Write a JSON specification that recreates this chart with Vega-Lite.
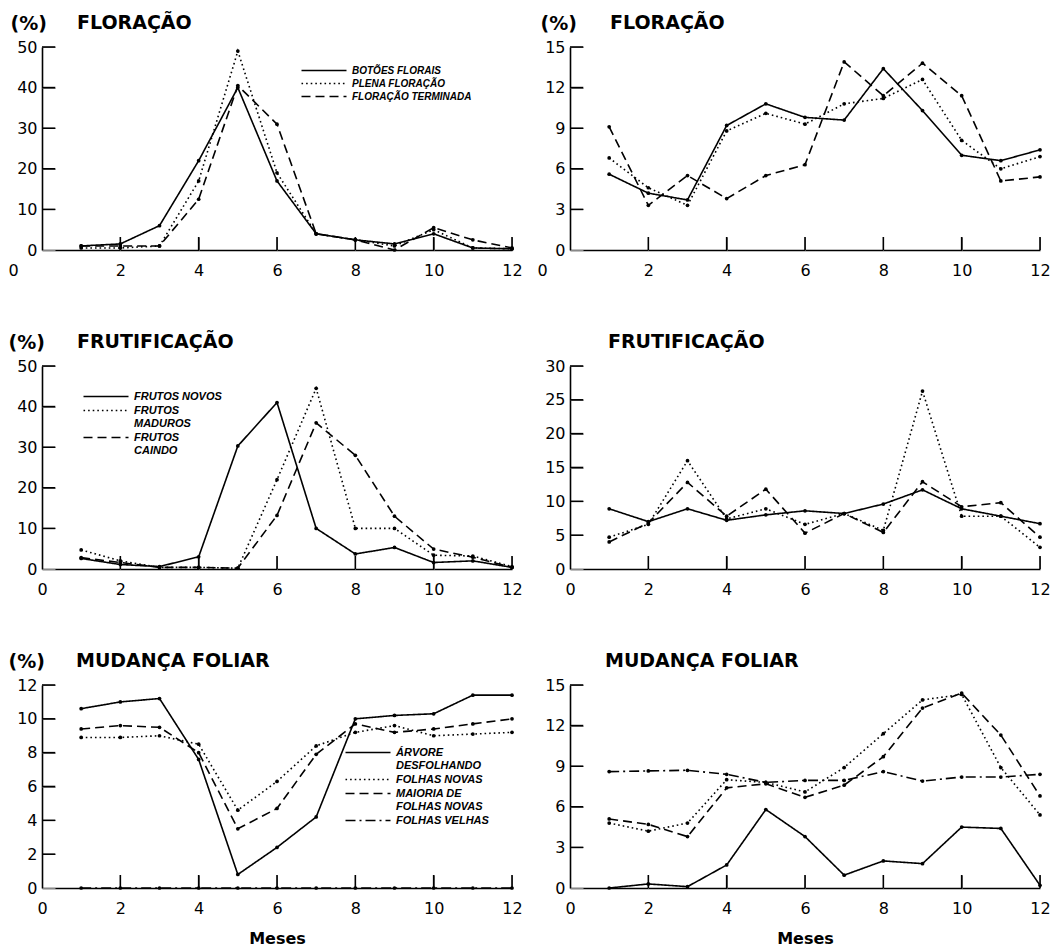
{
  "$schema": "https://vega.github.io/schema/vega-lite/v6.json",
  "background": "white",
  "padding": {"left": 7, "top": 14, "right": 5, "bottom": 5},
  "bounds": "flush",
  "spacing": 319,
  "resolve": {"scale": {"strokeDash": "independent", "x": "independent", "y": "independent"}, "legend": {"strokeDash": "independent"}},
  "datasets": {
    "xticks": [{"mes": 2}, {"mes": 4}, {"mes": 6}, {"mes": 8}, {"mes": 10}, {"mes": 12}],
    "yticks50": [{"valor": 10}, {"valor": 20}, {"valor": 30}, {"valor": 40}, {"valor": 50}],
    "yticks30": [{"valor": 5}, {"valor": 10}, {"valor": 15}, {"valor": 20}, {"valor": 25}, {"valor": 30}],
    "yticks15": [{"valor": 3}, {"valor": 6}, {"valor": 9}, {"valor": 12}, {"valor": 15}],
    "yticks12": [{"valor": 2}, {"valor": 4}, {"valor": 6}, {"valor": 8}, {"valor": 10}, {"valor": 12}],
    "flor_a": [
      {"mes":1,"serie":"BOTÕES FLORAIS","valor":1.0},{"mes":2,"serie":"BOTÕES FLORAIS","valor":1.5},{"mes":3,"serie":"BOTÕES FLORAIS","valor":6},{"mes":4,"serie":"BOTÕES FLORAIS","valor":22},{"mes":5,"serie":"BOTÕES FLORAIS","valor":40},{"mes":6,"serie":"BOTÕES FLORAIS","valor":17},{"mes":7,"serie":"BOTÕES FLORAIS","valor":4},{"mes":8,"serie":"BOTÕES FLORAIS","valor":2.5},{"mes":9,"serie":"BOTÕES FLORAIS","valor":1.5},{"mes":10,"serie":"BOTÕES FLORAIS","valor":4},{"mes":11,"serie":"BOTÕES FLORAIS","valor":0.5},{"mes":12,"serie":"BOTÕES FLORAIS","valor":0.3},
      {"mes":1,"serie":"PLENA FLORAÇÃO","valor":0.5},{"mes":2,"serie":"PLENA FLORAÇÃO","valor":0.5},{"mes":3,"serie":"PLENA FLORAÇÃO","valor":1},{"mes":4,"serie":"PLENA FLORAÇÃO","valor":17},{"mes":5,"serie":"PLENA FLORAÇÃO","valor":49},{"mes":6,"serie":"PLENA FLORAÇÃO","valor":19},{"mes":7,"serie":"PLENA FLORAÇÃO","valor":4},{"mes":8,"serie":"PLENA FLORAÇÃO","valor":2.5},{"mes":9,"serie":"PLENA FLORAÇÃO","valor":1},{"mes":10,"serie":"PLENA FLORAÇÃO","valor":5},{"mes":11,"serie":"PLENA FLORAÇÃO","valor":0.5},{"mes":12,"serie":"PLENA FLORAÇÃO","valor":0.3},
      {"mes":1,"serie":"FLORAÇÃO TERMINADA","valor":1},{"mes":2,"serie":"FLORAÇÃO TERMINADA","valor":1},{"mes":3,"serie":"FLORAÇÃO TERMINADA","valor":1},{"mes":4,"serie":"FLORAÇÃO TERMINADA","valor":12.5},{"mes":5,"serie":"FLORAÇÃO TERMINADA","valor":40.5},{"mes":6,"serie":"FLORAÇÃO TERMINADA","valor":31},{"mes":7,"serie":"FLORAÇÃO TERMINADA","valor":4},{"mes":8,"serie":"FLORAÇÃO TERMINADA","valor":2.5},{"mes":9,"serie":"FLORAÇÃO TERMINADA","valor":0},{"mes":10,"serie":"FLORAÇÃO TERMINADA","valor":5.5},{"mes":11,"serie":"FLORAÇÃO TERMINADA","valor":2.5},{"mes":12,"serie":"FLORAÇÃO TERMINADA","valor":0.5}
    ],
    "flor_b": [
      {"mes":1,"serie":"BOTÕES FLORAIS","valor":5.6},{"mes":2,"serie":"BOTÕES FLORAIS","valor":4.2},{"mes":3,"serie":"BOTÕES FLORAIS","valor":3.7},{"mes":4,"serie":"BOTÕES FLORAIS","valor":9.2},{"mes":5,"serie":"BOTÕES FLORAIS","valor":10.8},{"mes":6,"serie":"BOTÕES FLORAIS","valor":9.8},{"mes":7,"serie":"BOTÕES FLORAIS","valor":9.6},{"mes":8,"serie":"BOTÕES FLORAIS","valor":13.4},{"mes":9,"serie":"BOTÕES FLORAIS","valor":10.3},{"mes":10,"serie":"BOTÕES FLORAIS","valor":7.0},{"mes":11,"serie":"BOTÕES FLORAIS","valor":6.6},{"mes":12,"serie":"BOTÕES FLORAIS","valor":7.4},
      {"mes":1,"serie":"PLENA FLORAÇÃO","valor":6.8},{"mes":2,"serie":"PLENA FLORAÇÃO","valor":4.6},{"mes":3,"serie":"PLENA FLORAÇÃO","valor":3.3},{"mes":4,"serie":"PLENA FLORAÇÃO","valor":8.8},{"mes":5,"serie":"PLENA FLORAÇÃO","valor":10.1},{"mes":6,"serie":"PLENA FLORAÇÃO","valor":9.3},{"mes":7,"serie":"PLENA FLORAÇÃO","valor":10.8},{"mes":8,"serie":"PLENA FLORAÇÃO","valor":11.2},{"mes":9,"serie":"PLENA FLORAÇÃO","valor":12.6},{"mes":10,"serie":"PLENA FLORAÇÃO","valor":8.1},{"mes":11,"serie":"PLENA FLORAÇÃO","valor":6.0},{"mes":12,"serie":"PLENA FLORAÇÃO","valor":6.9},
      {"mes":1,"serie":"FLORAÇÃO TERMINADA","valor":9.1},{"mes":2,"serie":"FLORAÇÃO TERMINADA","valor":3.3},{"mes":3,"serie":"FLORAÇÃO TERMINADA","valor":5.5},{"mes":4,"serie":"FLORAÇÃO TERMINADA","valor":3.8},{"mes":5,"serie":"FLORAÇÃO TERMINADA","valor":5.5},{"mes":6,"serie":"FLORAÇÃO TERMINADA","valor":6.3},{"mes":7,"serie":"FLORAÇÃO TERMINADA","valor":13.9},{"mes":8,"serie":"FLORAÇÃO TERMINADA","valor":11.4},{"mes":9,"serie":"FLORAÇÃO TERMINADA","valor":13.8},{"mes":10,"serie":"FLORAÇÃO TERMINADA","valor":11.4},{"mes":11,"serie":"FLORAÇÃO TERMINADA","valor":5.1},{"mes":12,"serie":"FLORAÇÃO TERMINADA","valor":5.4}
    ],
    "frut_a": [
      {"mes":1,"serie":"FRUTOS NOVOS","valor":2.6},{"mes":2,"serie":"FRUTOS NOVOS","valor":1.1},{"mes":3,"serie":"FRUTOS NOVOS","valor":0.6},{"mes":4,"serie":"FRUTOS NOVOS","valor":3.0},{"mes":5,"serie":"FRUTOS NOVOS","valor":30.3},{"mes":6,"serie":"FRUTOS NOVOS","valor":41},{"mes":7,"serie":"FRUTOS NOVOS","valor":10},{"mes":8,"serie":"FRUTOS NOVOS","valor":3.7},{"mes":9,"serie":"FRUTOS NOVOS","valor":5.3},{"mes":10,"serie":"FRUTOS NOVOS","valor":1.6},{"mes":11,"serie":"FRUTOS NOVOS","valor":2.0},{"mes":12,"serie":"FRUTOS NOVOS","valor":0.4},
      {"mes":1,"serie":"FRUTOS MADUROS","valor":4.7},{"mes":2,"serie":"FRUTOS MADUROS","valor":2.0},{"mes":3,"serie":"FRUTOS MADUROS","valor":0.4},{"mes":4,"serie":"FRUTOS MADUROS","valor":0.4},{"mes":5,"serie":"FRUTOS MADUROS","valor":0.2},{"mes":6,"serie":"FRUTOS MADUROS","valor":22},{"mes":7,"serie":"FRUTOS MADUROS","valor":44.5},{"mes":8,"serie":"FRUTOS MADUROS","valor":10},{"mes":9,"serie":"FRUTOS MADUROS","valor":10},{"mes":10,"serie":"FRUTOS MADUROS","valor":3.4},{"mes":11,"serie":"FRUTOS MADUROS","valor":3.2},{"mes":12,"serie":"FRUTOS MADUROS","valor":0.6},
      {"mes":1,"serie":"FRUTOS CAINDO","valor":2.8},{"mes":2,"serie":"FRUTOS CAINDO","valor":1.6},{"mes":3,"serie":"FRUTOS CAINDO","valor":0.4},{"mes":4,"serie":"FRUTOS CAINDO","valor":0.4},{"mes":5,"serie":"FRUTOS CAINDO","valor":0.2},{"mes":6,"serie":"FRUTOS CAINDO","valor":13.2},{"mes":7,"serie":"FRUTOS CAINDO","valor":36},{"mes":8,"serie":"FRUTOS CAINDO","valor":28},{"mes":9,"serie":"FRUTOS CAINDO","valor":13},{"mes":10,"serie":"FRUTOS CAINDO","valor":4.9},{"mes":11,"serie":"FRUTOS CAINDO","valor":2.9},{"mes":12,"serie":"FRUTOS CAINDO","valor":0.4}
    ],
    "frut_b": [
      {"mes":1,"serie":"FRUTOS NOVOS","valor":8.9},{"mes":2,"serie":"FRUTOS NOVOS","valor":7.0},{"mes":3,"serie":"FRUTOS NOVOS","valor":8.9},{"mes":4,"serie":"FRUTOS NOVOS","valor":7.2},{"mes":5,"serie":"FRUTOS NOVOS","valor":8.0},{"mes":6,"serie":"FRUTOS NOVOS","valor":8.6},{"mes":7,"serie":"FRUTOS NOVOS","valor":8.2},{"mes":8,"serie":"FRUTOS NOVOS","valor":9.6},{"mes":9,"serie":"FRUTOS NOVOS","valor":11.7},{"mes":10,"serie":"FRUTOS NOVOS","valor":8.9},{"mes":11,"serie":"FRUTOS NOVOS","valor":7.8},{"mes":12,"serie":"FRUTOS NOVOS","valor":6.7},
      {"mes":1,"serie":"FRUTOS MADUROS","valor":4.7},{"mes":2,"serie":"FRUTOS MADUROS","valor":6.6},{"mes":3,"serie":"FRUTOS MADUROS","valor":16.0},{"mes":4,"serie":"FRUTOS MADUROS","valor":7.4},{"mes":5,"serie":"FRUTOS MADUROS","valor":8.9},{"mes":6,"serie":"FRUTOS MADUROS","valor":6.6},{"mes":7,"serie":"FRUTOS MADUROS","valor":8.2},{"mes":8,"serie":"FRUTOS MADUROS","valor":5.7},{"mes":9,"serie":"FRUTOS MADUROS","valor":26.3},{"mes":10,"serie":"FRUTOS MADUROS","valor":7.8},{"mes":11,"serie":"FRUTOS MADUROS","valor":7.8},{"mes":12,"serie":"FRUTOS MADUROS","valor":3.2},
      {"mes":1,"serie":"FRUTOS CAINDO","valor":4.0},{"mes":2,"serie":"FRUTOS CAINDO","valor":6.8},{"mes":3,"serie":"FRUTOS CAINDO","valor":12.8},{"mes":4,"serie":"FRUTOS CAINDO","valor":7.8},{"mes":5,"serie":"FRUTOS CAINDO","valor":11.8},{"mes":6,"serie":"FRUTOS CAINDO","valor":5.3},{"mes":7,"serie":"FRUTOS CAINDO","valor":8.2},{"mes":8,"serie":"FRUTOS CAINDO","valor":5.4},{"mes":9,"serie":"FRUTOS CAINDO","valor":12.9},{"mes":10,"serie":"FRUTOS CAINDO","valor":9.2},{"mes":11,"serie":"FRUTOS CAINDO","valor":9.8},{"mes":12,"serie":"FRUTOS CAINDO","valor":4.7}
    ],
    "fol_a": [
      {"mes":1,"serie":"ÁRVORE DESFOLHANDO","valor":10.6},{"mes":2,"serie":"ÁRVORE DESFOLHANDO","valor":11.0},{"mes":3,"serie":"ÁRVORE DESFOLHANDO","valor":11.2},{"mes":4,"serie":"ÁRVORE DESFOLHANDO","valor":7.6},{"mes":5,"serie":"ÁRVORE DESFOLHANDO","valor":0.8},{"mes":6,"serie":"ÁRVORE DESFOLHANDO","valor":2.4},{"mes":7,"serie":"ÁRVORE DESFOLHANDO","valor":4.2},{"mes":8,"serie":"ÁRVORE DESFOLHANDO","valor":10.0},{"mes":9,"serie":"ÁRVORE DESFOLHANDO","valor":10.2},{"mes":10,"serie":"ÁRVORE DESFOLHANDO","valor":10.3},{"mes":11,"serie":"ÁRVORE DESFOLHANDO","valor":11.4},{"mes":12,"serie":"ÁRVORE DESFOLHANDO","valor":11.4},
      {"mes":1,"serie":"FOLHAS NOVAS","valor":8.9},{"mes":2,"serie":"FOLHAS NOVAS","valor":8.9},{"mes":3,"serie":"FOLHAS NOVAS","valor":9.0},{"mes":4,"serie":"FOLHAS NOVAS","valor":8.5},{"mes":5,"serie":"FOLHAS NOVAS","valor":4.6},{"mes":6,"serie":"FOLHAS NOVAS","valor":6.3},{"mes":7,"serie":"FOLHAS NOVAS","valor":8.4},{"mes":8,"serie":"FOLHAS NOVAS","valor":9.2},{"mes":9,"serie":"FOLHAS NOVAS","valor":9.6},{"mes":10,"serie":"FOLHAS NOVAS","valor":9.0},{"mes":11,"serie":"FOLHAS NOVAS","valor":9.1},{"mes":12,"serie":"FOLHAS NOVAS","valor":9.2},
      {"mes":1,"serie":"MAIORIA DE FOLHAS NOVAS","valor":9.4},{"mes":2,"serie":"MAIORIA DE FOLHAS NOVAS","valor":9.6},{"mes":3,"serie":"MAIORIA DE FOLHAS NOVAS","valor":9.5},{"mes":4,"serie":"MAIORIA DE FOLHAS NOVAS","valor":8.0},{"mes":5,"serie":"MAIORIA DE FOLHAS NOVAS","valor":3.5},{"mes":6,"serie":"MAIORIA DE FOLHAS NOVAS","valor":4.7},{"mes":7,"serie":"MAIORIA DE FOLHAS NOVAS","valor":7.9},{"mes":8,"serie":"MAIORIA DE FOLHAS NOVAS","valor":9.7},{"mes":9,"serie":"MAIORIA DE FOLHAS NOVAS","valor":9.2},{"mes":10,"serie":"MAIORIA DE FOLHAS NOVAS","valor":9.4},{"mes":11,"serie":"MAIORIA DE FOLHAS NOVAS","valor":9.7},{"mes":12,"serie":"MAIORIA DE FOLHAS NOVAS","valor":10.0},
      {"mes":1,"serie":"FOLHAS VELHAS","valor":0},{"mes":2,"serie":"FOLHAS VELHAS","valor":0},{"mes":3,"serie":"FOLHAS VELHAS","valor":0},{"mes":4,"serie":"FOLHAS VELHAS","valor":0},{"mes":5,"serie":"FOLHAS VELHAS","valor":0},{"mes":6,"serie":"FOLHAS VELHAS","valor":0},{"mes":7,"serie":"FOLHAS VELHAS","valor":0},{"mes":8,"serie":"FOLHAS VELHAS","valor":0},{"mes":9,"serie":"FOLHAS VELHAS","valor":0},{"mes":10,"serie":"FOLHAS VELHAS","valor":0},{"mes":11,"serie":"FOLHAS VELHAS","valor":0},{"mes":12,"serie":"FOLHAS VELHAS","valor":0}
    ],
    "fol_b": [
      {"mes":1,"serie":"ÁRVORE DESFOLHANDO","valor":0},{"mes":2,"serie":"ÁRVORE DESFOLHANDO","valor":0.3},{"mes":3,"serie":"ÁRVORE DESFOLHANDO","valor":0.1},{"mes":4,"serie":"ÁRVORE DESFOLHANDO","valor":1.7},{"mes":5,"serie":"ÁRVORE DESFOLHANDO","valor":5.8},{"mes":6,"serie":"ÁRVORE DESFOLHANDO","valor":3.8},{"mes":7,"serie":"ÁRVORE DESFOLHANDO","valor":0.95},{"mes":8,"serie":"ÁRVORE DESFOLHANDO","valor":2.0},{"mes":9,"serie":"ÁRVORE DESFOLHANDO","valor":1.8},{"mes":10,"serie":"ÁRVORE DESFOLHANDO","valor":4.5},{"mes":11,"serie":"ÁRVORE DESFOLHANDO","valor":4.4},{"mes":12,"serie":"ÁRVORE DESFOLHANDO","valor":0.2},
      {"mes":1,"serie":"FOLHAS NOVAS","valor":4.8},{"mes":2,"serie":"FOLHAS NOVAS","valor":4.2},{"mes":3,"serie":"FOLHAS NOVAS","valor":4.8},{"mes":4,"serie":"FOLHAS NOVAS","valor":8.0},{"mes":5,"serie":"FOLHAS NOVAS","valor":7.8},{"mes":6,"serie":"FOLHAS NOVAS","valor":7.1},{"mes":7,"serie":"FOLHAS NOVAS","valor":8.9},{"mes":8,"serie":"FOLHAS NOVAS","valor":11.4},{"mes":9,"serie":"FOLHAS NOVAS","valor":13.9},{"mes":10,"serie":"FOLHAS NOVAS","valor":14.3},{"mes":11,"serie":"FOLHAS NOVAS","valor":8.9},{"mes":12,"serie":"FOLHAS NOVAS","valor":5.4},
      {"mes":1,"serie":"MAIORIA DE FOLHAS NOVAS","valor":5.1},{"mes":2,"serie":"MAIORIA DE FOLHAS NOVAS","valor":4.7},{"mes":3,"serie":"MAIORIA DE FOLHAS NOVAS","valor":3.8},{"mes":4,"serie":"MAIORIA DE FOLHAS NOVAS","valor":7.4},{"mes":5,"serie":"MAIORIA DE FOLHAS NOVAS","valor":7.7},{"mes":6,"serie":"MAIORIA DE FOLHAS NOVAS","valor":6.7},{"mes":7,"serie":"MAIORIA DE FOLHAS NOVAS","valor":7.6},{"mes":8,"serie":"MAIORIA DE FOLHAS NOVAS","valor":9.7},{"mes":9,"serie":"MAIORIA DE FOLHAS NOVAS","valor":13.3},{"mes":10,"serie":"MAIORIA DE FOLHAS NOVAS","valor":14.4},{"mes":11,"serie":"MAIORIA DE FOLHAS NOVAS","valor":11.3},{"mes":12,"serie":"MAIORIA DE FOLHAS NOVAS","valor":6.8},
      {"mes":1,"serie":"FOLHAS VELHAS","valor":8.6},{"mes":2,"serie":"FOLHAS VELHAS","valor":8.65},{"mes":3,"serie":"FOLHAS VELHAS","valor":8.7},{"mes":4,"serie":"FOLHAS VELHAS","valor":8.4},{"mes":5,"serie":"FOLHAS VELHAS","valor":7.8},{"mes":6,"serie":"FOLHAS VELHAS","valor":7.95},{"mes":7,"serie":"FOLHAS VELHAS","valor":7.95},{"mes":8,"serie":"FOLHAS VELHAS","valor":8.6},{"mes":9,"serie":"FOLHAS VELHAS","valor":7.9},{"mes":10,"serie":"FOLHAS VELHAS","valor":8.2},{"mes":11,"serie":"FOLHAS VELHAS","valor":8.2},{"mes":12,"serie":"FOLHAS VELHAS","valor":8.4}
    ]
  },
  "vconcat": [
    {
      "hconcat": [
        {
          "width": 470, "height": 203,
          "title": {"text": "FLORAÇÃO", "dx": 35},
          "resolve": {"axis": {"x": "independent", "y": "independent"}},
          "layer": [
            {"data": {"name": "flor_a"},
             "mark": {"type": "line", "color": "black", "strokeWidth": 1.6},
             "encoding": {
               "x": {"field": "mes", "type": "quantitative", "scale": {"domain": [0, 12], "nice": false}, "axis": {"values": [0,2,4,6,8,10,12], "title": null, "labelOffset": {"condition": {"test": "datum.value === 0", "value": -29}, "value": 0}}},
               "y": {"field": "valor", "type": "quantitative", "scale": {"domain": [0, 50], "nice": false}, "axis": {"values": [0,10,20,30,40,50], "title": "(%)", "titleX": -32}},
               "strokeDash": {"field": "serie", "type": "nominal",
                 "scale": {"domain": ["BOTÕES FLORAIS", "PLENA FLORAÇÃO", "FLORAÇÃO TERMINADA"], "range": [[1,0],[1.6,3],[9,5]]},
                 "legend": {"legendX": 254, "legendY": 18, "labelFontSize": 10}}
             }},
            {"data": {"name": "flor_a"},
             "mark": {"type": "point", "filled": true, "color": "black", "size": 14, "opacity": 1},
             "encoding": {
               "x": {"field": "mes", "type": "quantitative", "scale": {"domain": [0, 12], "nice": false}, "axis": {"orient": "top", "offset": -203, "labels": false, "domain": false, "ticks": true, "tickSize": 13, "values": [0,2,4,6,8,10,12], "title": null}},
               "y": {"field": "valor", "type": "quantitative", "scale": {"domain": [0, 50], "nice": false}, "axis": {"orient": "right", "offset": -470, "labels": false, "domain": false, "ticks": true, "tickSize": 13, "values": [0,10,20,30,40,50], "title": null}}}},
            {"data": {"name": "xticks"},
             "mark": {"type": "rule", "color": "black", "opacity": 1, "strokeWidth": 1.6},
             "encoding": {"x": {"field": "mes", "type": "quantitative", "axis": null}, "y": {"datum": 0, "type": "quantitative", "axis": null}, "y2": {"datum": 3.2}}},
            {"data": {"name": "yticks50"},
             "mark": {"type": "rule", "color": "black", "opacity": 1, "strokeWidth": 1.6},
             "encoding": {"y": {"field": "valor", "type": "quantitative", "axis": null}, "x": {"datum": 0, "type": "quantitative", "axis": null}, "x2": {"datum": 0.34}}}
          ]
        },
        {
          "width": 470, "height": 203,
          "title": {"text": "FLORAÇÃO", "dx": 40},
          "resolve": {"axis": {"x": "independent", "y": "independent"}},
          "layer": [
            {"data": {"name": "flor_b"},
             "mark": {"type": "line", "color": "black", "strokeWidth": 1.6},
             "encoding": {
               "x": {"field": "mes", "type": "quantitative", "scale": {"domain": [0, 12], "nice": false}, "axis": {"values": [0,2,4,6,8,10,12], "title": null, "labelOffset": {"condition": {"test": "datum.value === 0", "value": -28}, "value": 0}}},
               "y": {"field": "valor", "type": "quantitative", "scale": {"domain": [0, 15], "nice": false}, "axis": {"values": [0,3,6,9,12,15], "title": "(%)", "titleX": -30}},
               "strokeDash": {"field": "serie", "type": "nominal",
                 "scale": {"domain": ["BOTÕES FLORAIS", "PLENA FLORAÇÃO", "FLORAÇÃO TERMINADA"], "range": [[1,0],[1.6,3],[9,5]]},
                 "legend": null}
             }},
            {"data": {"name": "flor_b"},
             "mark": {"type": "point", "filled": true, "color": "black", "size": 14, "opacity": 1},
             "encoding": {
               "x": {"field": "mes", "type": "quantitative", "scale": {"domain": [0, 12], "nice": false}, "axis": {"orient": "top", "offset": -203, "labels": false, "domain": false, "ticks": true, "tickSize": 13, "values": [0,2,4,6,8,10,12], "title": null}},
               "y": {"field": "valor", "type": "quantitative", "scale": {"domain": [0, 15], "nice": false}, "axis": {"orient": "right", "offset": -470, "labels": false, "domain": false, "ticks": true, "tickSize": 13, "values": [0,3,6,9,12,15], "title": null}}}},
            {"data": {"name": "xticks"},
             "mark": {"type": "rule", "color": "black", "opacity": 1, "strokeWidth": 1.6},
             "encoding": {"x": {"field": "mes", "type": "quantitative", "axis": null}, "y": {"datum": 0, "type": "quantitative", "axis": null}, "y2": {"datum": 0.96}}},
            {"data": {"name": "yticks15"},
             "mark": {"type": "rule", "color": "black", "opacity": 1, "strokeWidth": 1.6},
             "encoding": {"y": {"field": "valor", "type": "quantitative", "axis": null}, "x": {"datum": 0, "type": "quantitative", "axis": null}, "x2": {"datum": 0.34}}}
          ]
        }
      ],
      "spacing": 58, "bounds": "flush",
      "resolve": {"scale": {"strokeDash": "independent", "x": "independent", "y": "independent"}, "legend": {"strokeDash": "independent"}}
    },
    {
      "hconcat": [
        {
          "width": 470, "height": 203,
          "title": {"text": "FRUTIFICAÇÃO", "dx": 35},
          "resolve": {"axis": {"x": "independent", "y": "independent"}},
          "layer": [
            {"data": {"name": "frut_a"},
             "mark": {"type": "line", "color": "black", "strokeWidth": 1.6},
             "encoding": {
               "x": {"field": "mes", "type": "quantitative", "scale": {"domain": [0, 12], "nice": false}, "axis": {"values": [0,2,4,6,8,10,12], "title": null}},
               "y": {"field": "valor", "type": "quantitative", "scale": {"domain": [0, 50], "nice": false}, "axis": {"values": [0,10,20,30,40,50], "title": "(%)", "titleX": -34}},
               "strokeDash": {"field": "serie", "type": "nominal",
                 "scale": {"domain": ["FRUTOS NOVOS", "FRUTOS MADUROS", "FRUTOS CAINDO"], "range": [[1,0],[1.6,3],[9,5]]},
                 "legend": {"legendX": 36, "legendY": 25, "labelFontSize": 11, "labelExpr": "datum.label == 'FRUTOS NOVOS' ? datum.label : split(datum.label, ' ')"}}
             }},
            {"data": {"name": "frut_a"},
             "mark": {"type": "point", "filled": true, "color": "black", "size": 14, "opacity": 1},
             "encoding": {
               "x": {"field": "mes", "type": "quantitative", "scale": {"domain": [0, 12], "nice": false}, "axis": {"orient": "top", "offset": -203, "labels": false, "domain": false, "ticks": true, "tickSize": 13, "values": [0,2,4,6,8,10,12], "title": null}},
               "y": {"field": "valor", "type": "quantitative", "scale": {"domain": [0, 50], "nice": false}, "axis": {"orient": "right", "offset": -470, "labels": false, "domain": false, "ticks": true, "tickSize": 13, "values": [0,10,20,30,40,50], "title": null}}}},
            {"data": {"name": "xticks"},
             "mark": {"type": "rule", "color": "black", "opacity": 1, "strokeWidth": 1.6},
             "encoding": {"x": {"field": "mes", "type": "quantitative", "axis": null}, "y": {"datum": 0, "type": "quantitative", "axis": null}, "y2": {"datum": 3.2}}},
            {"data": {"name": "yticks50"},
             "mark": {"type": "rule", "color": "black", "opacity": 1, "strokeWidth": 1.6},
             "encoding": {"y": {"field": "valor", "type": "quantitative", "axis": null}, "x": {"datum": 0, "type": "quantitative", "axis": null}, "x2": {"datum": 0.34}}}
          ]
        },
        {
          "width": 470, "height": 203,
          "title": {"text": "FRUTIFICAÇÃO", "dx": 38},
          "resolve": {"axis": {"x": "independent", "y": "independent"}},
          "layer": [
            {"data": {"name": "frut_b"},
             "mark": {"type": "line", "color": "black", "strokeWidth": 1.6},
             "encoding": {
               "x": {"field": "mes", "type": "quantitative", "scale": {"domain": [0, 12], "nice": false}, "axis": {"values": [0,2,4,6,8,10,12], "title": null}},
               "y": {"field": "valor", "type": "quantitative", "scale": {"domain": [0, 30], "nice": false}, "axis": {"values": [0,5,10,15,20,25,30], "title": "(%)", "titleX": -30, "titleOpacity": 0}},
               "strokeDash": {"field": "serie", "type": "nominal",
                 "scale": {"domain": ["FRUTOS NOVOS", "FRUTOS MADUROS", "FRUTOS CAINDO"], "range": [[1,0],[1.6,3],[9,5]]},
                 "legend": null}
             }},
            {"data": {"name": "frut_b"},
             "mark": {"type": "point", "filled": true, "color": "black", "size": 14, "opacity": 1},
             "encoding": {
               "x": {"field": "mes", "type": "quantitative", "scale": {"domain": [0, 12], "nice": false}, "axis": {"orient": "top", "offset": -203, "labels": false, "domain": false, "ticks": true, "tickSize": 13, "values": [0,2,4,6,8,10,12], "title": null}},
               "y": {"field": "valor", "type": "quantitative", "scale": {"domain": [0, 30], "nice": false}, "axis": {"orient": "right", "offset": -470, "labels": false, "domain": false, "ticks": true, "tickSize": 13, "values": [0,5,10,15,20,25,30], "title": null}}}},
            {"data": {"name": "xticks"},
             "mark": {"type": "rule", "color": "black", "opacity": 1, "strokeWidth": 1.6},
             "encoding": {"x": {"field": "mes", "type": "quantitative", "axis": null}, "y": {"datum": 0, "type": "quantitative", "axis": null}, "y2": {"datum": 1.92}}},
            {"data": {"name": "yticks30"},
             "mark": {"type": "rule", "color": "black", "opacity": 1, "strokeWidth": 1.6},
             "encoding": {"y": {"field": "valor", "type": "quantitative", "axis": null}, "x": {"datum": 0, "type": "quantitative", "axis": null}, "x2": {"datum": 0.34}}}
          ]
        }
      ],
      "spacing": 58, "bounds": "flush",
      "resolve": {"scale": {"strokeDash": "independent", "x": "independent", "y": "independent"}, "legend": {"strokeDash": "independent"}}
    },
    {
      "hconcat": [
        {
          "width": 470, "height": 203,
          "title": {"text": "MUDANÇA FOLIAR", "dx": 34},
          "resolve": {"axis": {"x": "independent", "y": "independent"}},
          "layer": [
            {"data": {"name": "fol_a"},
             "mark": {"type": "line", "color": "black", "strokeWidth": 1.6},
             "encoding": {
               "x": {"field": "mes", "type": "quantitative", "scale": {"domain": [0, 12], "nice": false}, "axis": {"values": [0,2,4,6,8,10,12], "title": "Meses"}},
               "y": {"field": "valor", "type": "quantitative", "scale": {"domain": [0, 12], "nice": false}, "axis": {"values": [0,2,4,6,8,10,12], "title": "(%)", "titleX": -34}},
               "strokeDash": {"field": "serie", "type": "nominal",
                 "scale": {"domain": ["ÁRVORE DESFOLHANDO", "FOLHAS NOVAS", "MAIORIA DE FOLHAS NOVAS", "FOLHAS VELHAS"], "range": [[1,0],[1.6,3],[9,5],[10,4,2,4]]},
                 "legend": {"legendX": 298, "legendY": 62, "labelFontSize": 11, "labelExpr": "datum.label == 'ÁRVORE DESFOLHANDO' ? ['ÁRVORE', 'DESFOLHANDO'] : datum.label == 'MAIORIA DE FOLHAS NOVAS' ? ['MAIORIA DE', 'FOLHAS NOVAS'] : datum.label"}}
             }},
            {"data": {"name": "fol_a"},
             "mark": {"type": "point", "filled": true, "color": "black", "size": 14, "opacity": 1},
             "encoding": {
               "x": {"field": "mes", "type": "quantitative", "scale": {"domain": [0, 12], "nice": false}, "axis": {"orient": "top", "offset": -203, "labels": false, "domain": false, "ticks": true, "tickSize": 13, "values": [0,2,4,6,8,10,12], "title": null}},
               "y": {"field": "valor", "type": "quantitative", "scale": {"domain": [0, 12], "nice": false}, "axis": {"orient": "right", "offset": -470, "labels": false, "domain": false, "ticks": true, "tickSize": 13, "values": [0,2,4,6,8,10,12], "title": null}}}},
            {"data": {"name": "xticks"},
             "mark": {"type": "rule", "color": "black", "opacity": 1, "strokeWidth": 1.6},
             "encoding": {"x": {"field": "mes", "type": "quantitative", "axis": null}, "y": {"datum": 0, "type": "quantitative", "axis": null}, "y2": {"datum": 0.77}}},
            {"data": {"name": "yticks12"},
             "mark": {"type": "rule", "color": "black", "opacity": 1, "strokeWidth": 1.6},
             "encoding": {"y": {"field": "valor", "type": "quantitative", "axis": null}, "x": {"datum": 0, "type": "quantitative", "axis": null}, "x2": {"datum": 0.34}}}
          ]
        },
        {
          "width": 470, "height": 203,
          "title": {"text": "MUDANÇA FOLIAR", "dx": 35},
          "resolve": {"axis": {"x": "independent", "y": "independent"}},
          "layer": [
            {"data": {"name": "fol_b"},
             "mark": {"type": "line", "color": "black", "strokeWidth": 1.6},
             "encoding": {
               "x": {"field": "mes", "type": "quantitative", "scale": {"domain": [0, 12], "nice": false}, "axis": {"values": [0,2,4,6,8,10,12], "title": "Meses"}},
               "y": {"field": "valor", "type": "quantitative", "scale": {"domain": [0, 15], "nice": false}, "axis": {"values": [0,3,6,9,12,15], "title": "(%)", "titleX": -30, "titleOpacity": 0}},
               "strokeDash": {"field": "serie", "type": "nominal",
                 "scale": {"domain": ["ÁRVORE DESFOLHANDO", "FOLHAS NOVAS", "MAIORIA DE FOLHAS NOVAS", "FOLHAS VELHAS"], "range": [[1,0],[1.6,3],[9,5],[10,4,2,4]]},
                 "legend": null}
             }},
            {"data": {"name": "fol_b"},
             "mark": {"type": "point", "filled": true, "color": "black", "size": 14, "opacity": 1},
             "encoding": {
               "x": {"field": "mes", "type": "quantitative", "scale": {"domain": [0, 12], "nice": false}, "axis": {"orient": "top", "offset": -203, "labels": false, "domain": false, "ticks": true, "tickSize": 13, "values": [0,2,4,6,8,10,12], "title": null}},
               "y": {"field": "valor", "type": "quantitative", "scale": {"domain": [0, 15], "nice": false}, "axis": {"orient": "right", "offset": -470, "labels": false, "domain": false, "ticks": true, "tickSize": 13, "values": [0,3,6,9,12,15], "title": null}}}},
            {"data": {"name": "xticks"},
             "mark": {"type": "rule", "color": "black", "opacity": 1, "strokeWidth": 1.6},
             "encoding": {"x": {"field": "mes", "type": "quantitative", "axis": null}, "y": {"datum": 0, "type": "quantitative", "axis": null}, "y2": {"datum": 0.96}}},
            {"data": {"name": "yticks15"},
             "mark": {"type": "rule", "color": "black", "opacity": 1, "strokeWidth": 1.6},
             "encoding": {"y": {"field": "valor", "type": "quantitative", "axis": null}, "x": {"datum": 0, "type": "quantitative", "axis": null}, "x2": {"datum": 0.34}}}
          ]
        }
      ],
      "spacing": 58, "bounds": "flush",
      "resolve": {"scale": {"strokeDash": "independent", "x": "independent", "y": "independent"}, "legend": {"strokeDash": "independent"}}
    }
  ],
  "config": {
    "view": {"stroke": null},
    "font": "DejaVu Sans",
    "title": {"anchor": "start", "frame": "group", "font": "DejaVu Sans", "fontSize": 19, "fontWeight": "bold", "color": "black", "baseline": "alphabetic", "offset": 0, "dy": 23},
    "axis": {
      "domainColor": "black", "domainWidth": 1.6, "ticks": false,
      "labelColor": "black", "labelFont": "DejaVu Sans", "labelFontSize": 16, "labelFlush": false, "labelOverlap": false, "grid": false,
      "titleColor": "black", "titleFont": "DejaVu Sans"
    },
    "axisX": {"labelPadding": 12, "titleFontSize": 16, "titleFontWeight": "bold", "titlePadding": 14},
    "axisY": {"labelPadding": 5, "titleAngle": 0, "titleY": -18, "titleAlign": "left", "titleBaseline": "alphabetic", "titleFontSize": 19, "titleFontWeight": "bold"},
    "legend": {
      "orient": "none", "title": null, "symbolType": "M0,0H10", "symbolSize": 81, "symbolStrokeWidth": 1.6, "symbolStrokeColor": "black", "symbolFillColor": "transparent",
      "labelOffset": 45, "rowPadding": 2, "labelFont": "Liberation Sans", "labelFontStyle": "italic", "labelFontWeight": "bold", "labelColor": "black", "labelLimit": 300
    }
  }
}
